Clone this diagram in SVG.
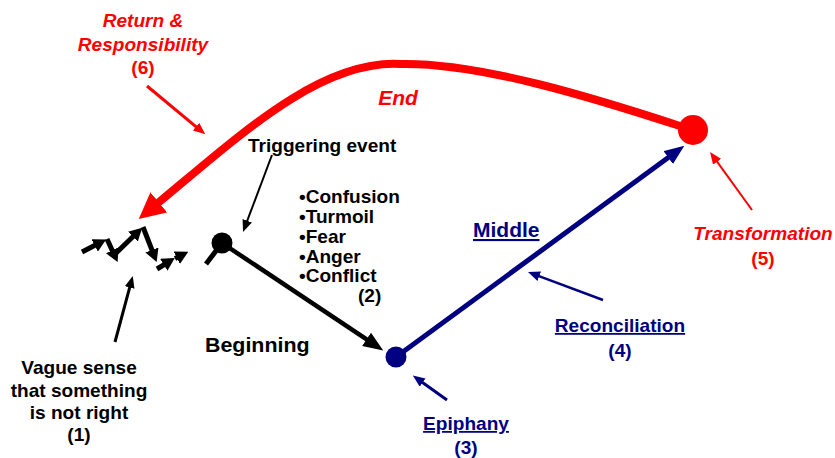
<svg xmlns="http://www.w3.org/2000/svg" width="835" height="458" viewBox="0 0 835 458">
<style>
text{font-family:"Liberation Sans",Arial,sans-serif;font-weight:bold;font-size:18px}
.red{fill:#FF0000}
.navy{fill:#000080}
.blk{fill:#000}
.it{font-style:italic}
.mid{text-anchor:middle}
.ul{text-decoration:underline}
.big{font-size:21px}
.ln{fill:none}
</style>
<defs>
<marker id="hRedBig" markerUnits="userSpaceOnUse" viewBox="0 0 26 26" markerWidth="26" markerHeight="26" refX="1" refY="13" orient="auto"><path d="M0,0L26,13L0,26z" fill="#FF0000"/></marker>
<marker id="hNavy" markerUnits="userSpaceOnUse" viewBox="0 0 20 16" markerWidth="20" markerHeight="16" refX="1" refY="8" orient="auto"><path d="M0,0L20,8L0,16z" fill="#000080"/></marker>
<marker id="hBlk" markerUnits="userSpaceOnUse" viewBox="0 0 20 16" markerWidth="20" markerHeight="16" refX="1" refY="8" orient="auto"><path d="M0,0L20,8L0,16z" fill="#000"/></marker>
<marker id="hZig" markerUnits="userSpaceOnUse" viewBox="0 0 13 14" markerWidth="13" markerHeight="14" refX="1" refY="7" orient="auto"><path d="M0,0L13,7L0,14z" fill="#000"/></marker>
<marker id="hThinBlk" markerUnits="userSpaceOnUse" viewBox="0 0 12 10" markerWidth="12" markerHeight="10" refX="1" refY="5" orient="auto"><path d="M0,0L12,5L0,10z" fill="#000"/></marker>
<marker id="hThinRed" markerUnits="userSpaceOnUse" viewBox="0 0 12 10" markerWidth="12" markerHeight="10" refX="1" refY="5" orient="auto"><path d="M0,0L12,5L0,10z" fill="#FF0000"/></marker>
<marker id="hThinNavy" markerUnits="userSpaceOnUse" viewBox="0 0 12 10" markerWidth="12" markerHeight="10" refX="1" refY="5" orient="auto"><path d="M0,0L12,5L0,10z" fill="#000080"/></marker>
</defs>

<g id="connectors" class="ln">
  <path id="end-arc" d="M680,126 C600,100 480,62 400,64 C320,60 240,135 158,203" stroke="#FF0000" stroke-width="8" marker-end="url(#hRedBig)"/>
  <line id="middle-line" x1="396" y1="357" x2="669" y2="157" stroke="#000080" stroke-width="5" marker-end="url(#hNavy)"/>
  <line id="beginning-line" x1="222" y1="243" x2="367.4" y2="339.9" stroke="#000" stroke-width="4.5" marker-end="url(#hBlk)"/>
  <line x1="222" y1="243" x2="206" y2="264" stroke="#000" stroke-width="5"/>
  <line x1="272" y1="155" x2="246.9" y2="221.7" stroke="#000" stroke-width="2" marker-end="url(#hThinBlk)"/>
  <line x1="115" y1="342" x2="129.9" y2="286.6" stroke="#000" stroke-width="3" marker-end="url(#hThinBlk)"/>
  <line x1="147" y1="86" x2="196.8" y2="127.3" stroke="#FF0000" stroke-width="3" marker-end="url(#hThinRed)"/>
  <line x1="752" y1="210" x2="716.5" y2="160.9" stroke="#FF0000" stroke-width="2" marker-end="url(#hThinRed)"/>
  <line x1="447" y1="400" x2="421.8" y2="382" stroke="#000080" stroke-width="3" marker-end="url(#hThinNavy)"/>
  <line x1="603" y1="300" x2="538.3" y2="275.9" stroke="#000080" stroke-width="2.5" marker-end="url(#hThinNavy)"/>
</g>

<g id="vague-zigzag" class="ln" stroke="#000" stroke-width="5">
  <line x1="82" y1="252" x2="95.5" y2="245" marker-end="url(#hZig)"/>
  <line x1="107" y1="239" x2="112.6" y2="251.2" marker-end="url(#hZig)"/>
  <line x1="114" y1="255" x2="133.6" y2="236" marker-end="url(#hZig)"/>
  <line x1="143" y1="227" x2="152.3" y2="250.9" marker-end="url(#hZig)"/>
  <line x1="157" y1="269" x2="164.6" y2="264.3" marker-end="url(#hZig)"/>
  <line x1="175" y1="258.5" x2="177.6" y2="257.2" marker-end="url(#hZig)"/>
</g>

<g id="trigger-node"><circle cx="222" cy="243" r="10.5" fill="#000"/></g>
<g id="epiphany-node"><circle cx="396" cy="357" r="10.5" fill="#000080"/></g>
<g id="transformation-node"><circle cx="693" cy="130" r="15" fill="#FF0000"/></g>

<g id="label-return">
  <text class="red it mid" transform="translate(143,27) scale(1.06,1)">Return &amp;</text>
  <text class="red it mid" transform="translate(143,51) scale(1.06,1)">Responsibility</text>
  <text class="red mid" transform="translate(143,74) scale(1.06,1)">(6)</text>
</g>
<g id="label-end"><text class="red it mid big" x="398" y="105">End</text></g>
<g id="label-trigger"><text class="blk" transform="translate(248,152) scale(1.06,1)">Triggering event</text></g>
<g id="label-emotions">
  <text class="blk" transform="translate(299,203) scale(1.06,1)">•Confusion</text>
  <text class="blk" transform="translate(299,223) scale(1.06,1)">•Turmoil</text>
  <text class="blk" transform="translate(299,243) scale(1.06,1)">•Fear</text>
  <text class="blk" transform="translate(299,263) scale(1.06,1)">•Anger</text>
  <text class="blk" transform="translate(299,282) scale(1.06,1)">•Conflict</text>
  <text class="blk" transform="translate(358,302) scale(1.06,1)">(2)</text>
</g>
<g id="label-beginning"><text class="blk" style="font-size:20px" transform="translate(205,352) scale(1.07,1)">Beginning</text></g>
<g id="label-middle"><text class="navy big ul" x="473" y="237">Middle</text></g>
<g id="label-vague">
  <text class="blk mid" transform="translate(79,374) scale(1.06,1)">Vague sense</text>
  <text class="blk mid" transform="translate(79,397) scale(1.06,1)">that something</text>
  <text class="blk mid" transform="translate(79,419) scale(1.06,1)">is not right</text>
  <text class="blk mid" transform="translate(79,441) scale(1.06,1)">(1)</text>
</g>
<g id="label-epiphany">
  <text class="navy mid ul" transform="translate(466,430) scale(1.06,1)">Epiphany</text>
  <text class="navy mid" transform="translate(466,454) scale(1.06,1)">(3)</text>
</g>
<g id="label-reconciliation">
  <text class="navy mid ul" transform="translate(620,332) scale(1.06,1)">Reconciliation</text>
  <text class="navy mid" transform="translate(620,357) scale(1.06,1)">(4)</text>
</g>
<g id="label-transformation">
  <text class="red it mid" transform="translate(763,240) scale(1.06,1)">Transformation</text>
  <text class="red mid" transform="translate(763,265) scale(1.06,1)">(5)</text>
</g>
</svg>
